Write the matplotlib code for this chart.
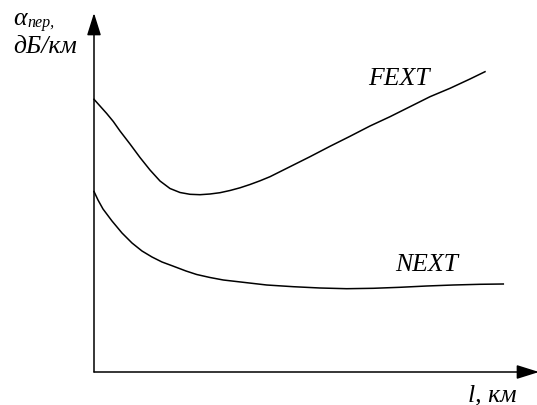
import matplotlib
matplotlib.use("Agg")
import matplotlib.pyplot as plt

# зависимость переходного затухания от длины линии (схематично)
fext_x = [0, 6, 12.7, 19.3, 26, 36, 46, 56, 66, 76, 86, 96, 106, 116, 126, 136, 146, 156,
          166, 176, 196, 216, 236, 256, 276, 296, 316, 336, 356, 376, 391]
fext_y = [272.7, 266, 258.5, 250.5, 241, 228, 214.5, 202, 191, 183.5, 179.5, 177.7, 177.3,
          178, 179.3, 181.5, 184.2, 187.5, 191.2, 195.3, 205.3, 215.3, 225.7, 235.7, 246,
          255.3, 265.3, 275.3, 283.7, 293, 300.3]

next_x = [0, 4, 9, 18, 28, 38, 48, 58, 68, 78, 92, 102.7, 116, 129.3, 152.7, 172.7, 199.3,
          226, 252.7, 279.3, 306, 332.7, 359.3, 386, 409.3]
next_y = [180.5, 172, 163, 151, 139, 129, 121, 115, 110, 106.3, 101, 97.5, 94.5, 92, 89.3,
          87, 85.3, 84, 83.3, 83.7, 84.7, 86, 87, 87.7, 88]

fig = plt.figure(figsize=(5.37, 4.05), dpi=100)
ax = fig.add_axes([0, 0, 1, 1])
ax.set_xlim(-94, 443)
ax.set_ylim(-33, 372)
ax.axis('off')

serif = dict(family='Liberation Serif', style='italic', color='black')

# оси со стрелками
arrow = dict(arrowstyle='-|>,head_length=1.37,head_width=0.43', mutation_scale=10,
             color='black', lw=1.1, shrinkA=0, shrinkB=0)
ax.annotate('', xy=(0, 359), xytext=(0, 0), arrowprops=arrow, annotation_clip=False)
ax.annotate('', xy=(445, 0), xytext=(0, 0), arrowprops=arrow, annotation_clip=False)

ax.plot(fext_x, fext_y, color='black', lw=1.1)
ax.plot(next_x, next_y, color='black', lw=1.1)

fs = 18.5
ax.text(305, 293, 'FEXT', ha='center', va='center', fontsize=fs, **serif)
ax.text(332.5, 107, 'NEXT', ha='center', va='center', fontsize=fs, **serif)
ax.text(374, -29, 'l, км', ha='left', va='baseline', fontsize=fs, **serif)

ax.text(-81, 347, 'α', ha='left', va='baseline', fontsize=fs, **serif)
ax.text(-67, 345, 'пер,', ha='left', va='baseline', fontsize=11.5, **serif)
ax.text(-81, 319, 'дБ/км', ha='left', va='baseline', fontsize=fs, **serif)

fig.savefig('out.png', dpi=100)
